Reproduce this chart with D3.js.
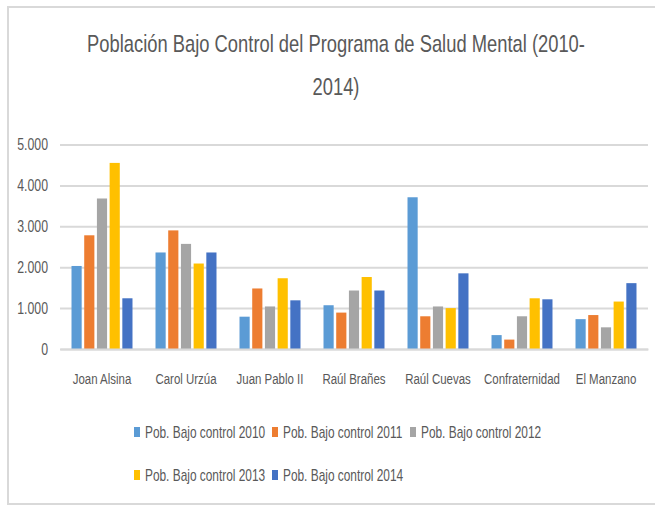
<!DOCTYPE html>
<meta charset="utf-8">
<style>

body {
  margin: 0;
  background: #fff;
}

text {
  font-family: "Liberation Sans", Arial, sans-serif;
  fill: #595959;
}

.grid line {
  stroke: #d9d9d9;
  stroke-width: 2px;
}

</style>
<body>
<script src="https://cdn.jsdelivr.net/npm/d3@7"></script>
<script>

// the centres (categories on the x axis)
var centros = ["Joan Alsina", "Carol Urzúa", "Juan Pablo II", "Raúl Brañes", "Raúl Cuevas", "Confraternidad", "El Manzano"];

var series = ["Pob. Bajo control 2010", "Pob. Bajo control 2011", "Pob. Bajo control 2012", "Pob. Bajo control 2013", "Pob. Bajo control 2014"];

// one array per year, same order as centros
var pob2010 = [2030, 2360, 790, 1070, 3710, 340, 730];
var pob2011 = [2780, 2900, 1480, 890, 800, 230, 830];
var pob2012 = [3680, 2570, 1040, 1430, 1040, 800, 530];
var pob2013 = [4550, 2090, 1730, 1760, 1000, 1240, 1160];
var pob2014 = [1240, 2360, 1190, 1430, 1850, 1215, 1610];

var yTicks = [0, 1000, 2000, 3000, 4000, 5000];

var colores = ["#5b9bd5", "#ed7d31", "#a5a5a5", "#ffc000", "#4472c4"];

var width = 655,
    height = 506;

var valores = [pob2010, pob2011, pob2012, pob2013, pob2014];

// rows of the table: one per centre
var data = centros.map(function(c, i) {
  return {centro: c, vals: valores.map(function(v) { return v[i]; })};
});

var locale = d3.formatLocale({decimal: ",", thousands: ".", grouping: [3], currency: ["$", ""]});
var fmt = locale.format(",d");

// no narrow font installed, so squeeze the text horizontally
function squeeze(sel, sx) {
  sel.attr("x", function() { return (+this.getAttribute("x") || 0) / sx; })
     .attr("transform", "scale(" + sx + ",1)");
}

var svg = d3.select("body").append("svg")
    .attr("width", width)
    .attr("height", height);

// chart frame
svg.append("path")
    .attr("d", "M664,7H8V504H664")
    .attr("fill", "none")
    .attr("stroke", "#d9d9d9")
    .attr("stroke-width", 2);

var x0 = d3.scaleBand()
    .domain(centros)
    .range([60, 648])
    .paddingInner(0.274)
    .paddingOuter(0.137);

var x1 = d3.scaleBand()
    .domain(d3.range(series.length))
    .range([0, x0.bandwidth()])
    .paddingInner(0.2);

var y = d3.scaleLinear()
    .domain([0, 5000])
    .range([349, 144.5]);

// gridlines + labels
var grid = svg.append("g")
    .attr("class", "grid")
    .attr("transform", "translate(60,0)")
    .call(d3.axisLeft(y).tickValues(yTicks).tickSize(-588).tickFormat(fmt).tickPadding(12));

grid.select(".domain").remove();
grid.selectAll("text")
    .style("font-size", "16px")
    .attr("fill", "#595959")
    .call(squeeze, 0.77);

// title
var title = svg.append("g")
    .attr("transform", "translate(336,0)")
  .append("text")
    .attr("text-anchor", "middle")
    .attr("transform", "scale(0.765,1)")
    .style("font-size", "24px");
title.append("tspan").attr("x", 0).attr("y", 52).text("Población Bajo Control del Programa de Salud Mental (2010-");
title.append("tspan").attr("x", 0).attr("y", 95).text("2014)");

// bars
var groups = svg.selectAll(".grupo")
    .data(data)
  .enter().append("g")
    .attr("class", "grupo")
    .attr("transform", function(d) { return "translate(" + x0(d.centro) + ",0)"; });

groups.selectAll("rect")
    .data(function(d) { return d.vals; })
  .enter().append("rect")
    .attr("x", function(d, i) { return x1(i); })
    .attr("y", function(d) { return y(d); })
    .attr("width", x1.bandwidth())
    .attr("height", function(d) { return y(0) - y(d); })
    .attr("fill", function(d, i) { return colores[i]; });

// category labels
var xAxis = svg.append("g")
    .attr("transform", "translate(0,349)")
    .call(d3.axisBottom(x0).tickSize(0).tickPadding(24));

xAxis.select(".domain")
    .attr("stroke", "#d9d9d9")
    .attr("stroke-width", 2);
xAxis.selectAll("text")
    .style("font-size", "15.5px")
    .attr("fill", "#595959")
    .call(squeeze, 0.74);

// legend, 3 per row
var legend = svg.selectAll(".leyenda")
    .data(series)
  .enter().append("g")
    .attr("class", "leyenda")
    .attr("transform", function(d, i) {
      return "translate(" + (134 + (i % 3) * 138) + "," + (432 + Math.floor(i / 3) * 43) + ")";
    });

legend.append("rect")
    .attr("x", 0)
    .attr("y", -5)
    .attr("width", 6)
    .attr("height", 10)
    .attr("fill", function(d, i) { return colores[i]; });

legend.append("text")
    .attr("x", 11)
    .attr("dy", "0.35em")
    .style("font-size", "16px")
    .text(function(d) { return d; })
    .call(squeeze, 0.743);

</script>
